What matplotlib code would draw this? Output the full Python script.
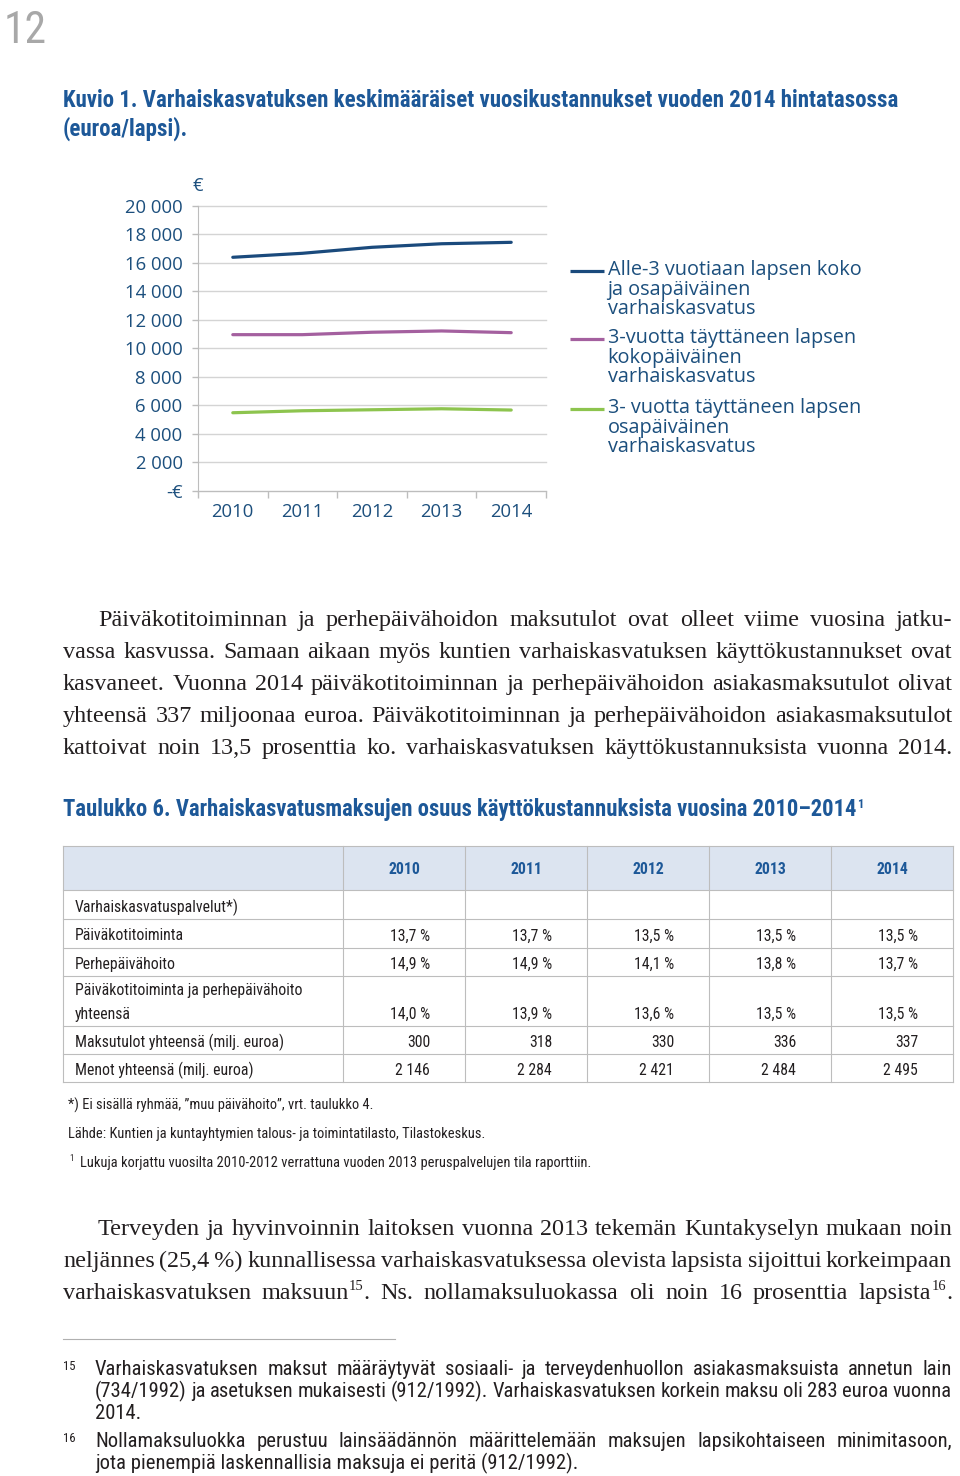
import re
import numpy as np
import matplotlib
matplotlib.use("Agg")
import matplotlib.pyplot as plt
from matplotlib import font_manager as fm

# ---- chart data (Kuvio 1) ----
years = ["2010", "2011", "2012", "2013", "2014"]
alle3 = [16380, 16660, 17080, 17330, 17430]
koko3 = [10950, 10950, 11120, 11210, 11090]
osa3 = [5470, 5610, 5680, 5750, 5660]
ytick_vals = [0, 2000, 4000, 6000, 8000, 10000, 12000, 14000, 16000, 18000, 20000]
ytick_labels = ["-€", "2 000", "4 000", "6 000", "8 000", "10 000",
                "12 000", "14 000", "16 000", "18 000", "20 000"]
legend_labels = [
    "Alle-3 vuotiaan lapsen koko\nja osapäiväinen\nvarhaiskasvatus",
    "3-vuotta täyttäneen lapsen\nkokopäiväinen\nvarhaiskasvatus",
    "3- vuotta täyttäneen lapsen\nosapäiväinen\nvarhaiskasvatus",
]

# ---- table data (Taulukko 6) ----
table_rows = [
    "Varhaiskasvatuspalvelut*)",
    "Päiväkotitoiminta",
    "Perhepäivähoito",
    "Päiväkotitoiminta ja perhepäivähoito\nyhteensä",
    "Maksutulot yhteensä (milj. euroa)",
    "Menot yhteensä (milj. euroa)",
]
table_vals = [
    ["", "", "", "", ""],
    ["13,7 %", "13,7 %", "13,5 %", "13,5 %", "13,5 %"],
    ["14,9 %", "14,9 %", "14,1 %", "13,8 %", "13,7 %"],
    ["14,0 %", "13,9 %", "13,6 %", "13,5 %", "13,5 %"],
    ["300", "318", "330", "336", "337"],
    ["2 146", "2 284", "2 421", "2 484", "2 495"],
]

# ---- page text ----
title1 = ["Kuvio 1. Varhaiskasvatuksen keskimääräiset vuosikustannukset vuoden 2014 hintatasossa",
          "(euroa/lapsi)."]
para1 = [
    "Päiväkotitoiminnan ja perhepäivähoidon maksutulot ovat olleet viime vuosina jatku-",
    "vassa kasvussa. Samaan aikaan myös kuntien varhaiskasvatuksen käyttökustannukset ovat",
    "kasvaneet. Vuonna 2014 päiväkotitoiminnan ja perhepäivähoidon asiakasmaksutulot olivat",
    "yhteensä 337 miljoonaa euroa. Päiväkotitoiminnan ja perhepäivähoidon asiakasmaksutulot",
    "kattoivat noin 13,5 prosenttia ko. varhaiskasvatuksen käyttökustannuksista vuonna 2014.",
]
title2 = "Taulukko 6. Varhaiskasvatusmaksujen osuus käyttökustannuksista vuosina 2010–2014"
table_notes = [
    "*) Ei sisällä ryhmää, ”muu päivähoito”, vrt. taulukko 4.",
    "Lähde: Kuntien ja kuntayhtymien talous- ja toimintatilasto, Tilastokeskus.",
    "Lukuja korjattu vuosilta 2010-2012 verrattuna vuoden 2013 peruspalvelujen tila raporttiin.",
]
para2 = [
    "Terveyden ja hyvinvoinnin laitoksen vuonna 2013 tekemän Kuntakyselyn mukaan noin",
    "neljännes (25,4\u2009%) kunnallisessa varhaiskasvatuksessa olevista lapsista sijoittui korkeimpaan",
    "varhaiskasvatuksen maksuun^{15}.  Ns. nollamaksuluokassa oli noin 16 prosenttia lapsista^{16}.",
]
fn15 = ["Varhaiskasvatuksen maksut määräytyvät sosiaali- ja terveydenhuollon asiakasmaksuista annetun lain",
        "(734/1992) ja asetuksen mukaisesti (912/1992). Varhaiskasvatuksen korkein maksu oli 283 euroa vuonna",
        "2014."]
fn16 = ["Nollamaksuluokka perustuu lainsäädännön määrittelemään maksujen lapsikohtaiseen minimitasoon,",
        "jota pienempiä laskennallisia maksuja ei peritä (912/1992)."]

W, H = 960, 1476
PX = 100 / 72  # pixels per point

avail = {f.name for f in fm.fontManager.ttflist}


def pick(*names):
    for n in names:
        if n in avail:
            return n
    return "DejaVu Sans"


NARROW = pick("Liberation Sans Narrow", "DejaVu Sans Condensed", "Roboto Condensed", "Liberation Sans")
SERIF = pick("Liberation Serif", "DejaVu Serif")
SANS = pick("Open Sans", "Noto Sans", "DejaVu Sans")

NAVY = "#1c4f7d"
TITLE = "#1d5898"
TXT = "#231f20"
LINECOLS = ["#1a4a7c", "#a4609f", "#8dc44e"]
GRID = "#d4d4d4"
RULE = "#bdbdbd"

fig = plt.figure(figsize=(W / 100, H / 100), dpi=100)
page = fig.add_axes([0, 0, 1, 1])
page.set_xlim(0, W)
page.set_ylim(H, 0)
page.axis("off")
R = fig.canvas.get_renderer()


def width(t):
    return t.get_window_extent(renderer=R).width


def fit(t, target):
    t.set_fontsize(t.get_fontsize() * target / width(t))
    return t.get_fontsize()


def token_segments(tok):
    return [p for p in re.split(r"(\^\{[^}]*\})", tok) if p]


def make_token(tok, yb, size, family, color, weight="normal"):
    segs = []
    for part in token_segments(tok):
        if part.startswith("^{"):
            t = page.text(0, yb - size * PX * 0.38, part[2:-1], fontsize=size * 0.6,
                          family=family, color=color, va="baseline", weight=weight)
        else:
            t = page.text(0, yb, part, fontsize=size, family=family, color=color,
                          va="baseline", weight=weight)
        segs.append((t, width(t)))
    return segs


def natural_width(line, size, family, space=0.16):
    toks = [t for t in line.split(" ") if t]
    total = 0
    for tok in toks:
        for t, w in make_token(tok, 0, size, family, TXT):
            total += w
            t.remove()
    return total + (len(toks) - 1) * space * size * PX


def put_line(x0, x1, yb, line, size, family, color, justify=True, weight="normal"):
    groups = [make_token(tok, yb, size, family, color, weight) for tok in line.split(" ") if tok]
    widths = [sum(w for _, w in g) for g in groups]
    if justify and len(groups) > 1:
        gap = (x1 - x0 - sum(widths)) / (len(groups) - 1)
    else:
        gap = 0.25 * size * PX
    x = x0
    for g, w in zip(groups, widths):
        cx = x
        for t, sw in g:
            t.set_x(cx)
            cx += sw
        x += w + gap


# ---- page number and figure title ----
t = page.text(4, 43, "12", fontsize=40, family=NARROW, color="#a8a8a8", va="baseline")
fit(t, 43)
t = page.text(63, 107, title1[0], fontsize=15, family=NARROW, weight="bold", color=TITLE, va="baseline")
tsize = fit(t, 834)
page.text(63, 136, title1[1], fontsize=tsize, family=NARROW, weight="bold", color=TITLE, va="baseline")

# ---- line chart ----
ax = fig.add_axes([198 / W, 1 - 490.7 / H, 348 / W, 285 / H])
ax.patch.set_alpha(0)
xs = np.arange(len(years))
for vals, col in zip([alle3, koko3, osa3], LINECOLS):
    ax.plot(xs, vals, color=col, lw=2.3, solid_capstyle="round")
ax.set_xlim(-0.5, len(years) - 0.5)
ax.set_ylim(0, 20000)
ax.set_yticks(ytick_vals, ytick_labels)
ax.set_xticks(xs, years)
ax.set_xticks(np.arange(len(years) + 1) - 0.5, minor=True)
ax.tick_params(axis="x", which="major", length=0, pad=9, labelsize=13.3, labelcolor=NAVY)
ax.tick_params(axis="x", which="minor", length=5, width=1, color=RULE)
ax.tick_params(axis="y", length=4, width=1, color=RULE, pad=7, labelsize=13.3, labelcolor=NAVY)
for lbl in ax.get_xticklabels() + ax.get_yticklabels():
    lbl.set_fontfamily(SANS)
ax.grid(axis="y", color=GRID, lw=1)
for gl in ax.get_ygridlines():
    gl.set_clip_on(False)
for s in ["top", "right"]:
    ax.spines[s].set_visible(False)
for s in ["left", "bottom"]:
    ax.spines[s].set_color(RULE)
ax.set_axisbelow(True)
page.text(198, 191, "€", fontsize=13.3, family=SANS, color=NAVY, ha="center", va="baseline")

# legend drawn by hand so the key sits beside the first line of each label
leg_top = [271, 339, 409]
lsize = None
for lab, col, yk in zip(legend_labels, LINECOLS, leg_top):
    page.plot([570, 604], [yk, yk], color=col, lw=2.3, solid_capstyle="butt")
    for i, ln in enumerate(lab.split("\n")):
        t = page.text(607.5, yk + 4 + i * 19.5, ln, fontsize=14, family=SANS, color=NAVY, va="baseline")
        if lsize is None:
            lsize = fit(t, 254)
        else:
            t.set_fontsize(lsize)

# ---- body paragraphs ----
BODY_MAX = 17.4
bsize = BODY_MAX
for lines in (para1, para2):
    for i, ln in enumerate(lines):
        x0 = 98 if i == 0 else 63
        bsize = min(bsize, BODY_MAX * (952 - x0) / natural_width(ln, BODY_MAX, SERIF))
for i, ln in enumerate(para1):
    put_line(98 if i == 0 else 63, 952, 626 + 32 * i, ln, bsize, SERIF, TXT)
for i, ln in enumerate(para2):
    put_line(98 if i == 0 else 63, 952, 1235 + 32 * i, ln, bsize, SERIF, TXT)

# ---- table ----
t = page.text(63, 816, title2, fontsize=15, family=NARROW, weight="bold", color=TITLE, va="baseline")
fit(t, 795)
page.text(63 + width(t) + 1, 808, "1", fontsize=t.get_fontsize() * 0.55, family=NARROW,
          weight="bold", color=TITLE, va="baseline")

col_edges = [63, 343, 465, 587, 709, 831, 953]
row_edges = [846, 890, 919, 947.5, 976, 1025.5, 1054, 1082]
page.fill_between([col_edges[0], col_edges[-1]], row_edges[0], row_edges[1], color="#dce4f0", lw=0)
for y in row_edges:
    page.plot([col_edges[0], col_edges[-1]], [y, y], color=RULE, lw=0.8)
for x in col_edges:
    page.plot([x, x], [row_edges[0], row_edges[-1]], color=RULE, lw=0.8)

t = page.text(75, 0, "Maksutulot yhteensä (milj. euroa)", fontsize=12, family=NARROW, color=TXT)
csize = fit(t, 207)
t.remove()
for j, yr in enumerate(years):
    page.text((col_edges[j + 1] + col_edges[j + 2]) / 2, row_edges[1] - 16.5, yr, fontsize=csize,
              family=NARROW, weight="bold", color=TITLE, ha="center", va="baseline")
for i, (lab, vals) in enumerate(zip(table_rows, table_vals)):
    yb = row_edges[i + 2] - 7
    parts = lab.split("\n")
    for k, p in enumerate(parts):
        page.text(75, yb - 23 * (len(parts) - 1 - k), p, fontsize=csize, family=NARROW,
                  color=TXT, va="baseline")
    for j, v in enumerate(vals):
        page.text(col_edges[j + 2] - 35, yb, v, fontsize=csize, family=NARROW, color=TXT,
                  ha="right", va="baseline")

t = page.text(68, 1138, table_notes[1], fontsize=11, family=NARROW, color=TXT, va="baseline")
nsize = fit(t, 415)
page.text(68, 1110, table_notes[0], fontsize=nsize, family=NARROW, color=TXT, va="baseline")
page.text(69, 1161, "1", fontsize=nsize * 0.6, family=NARROW, color=TXT, va="baseline")
page.text(80, 1167, table_notes[2], fontsize=nsize, family=NARROW, color=TXT, va="baseline")

# ---- footnotes ----
page.plot([63, 395], [1339, 1339], color="#b0b0b0", lw=0.8)
t = page.text(95, 1469, fn16[1], fontsize=12, family=NARROW, color=TXT, va="baseline")
fsize = fit(t, 480)
for i, ln in enumerate(fn15):
    put_line(95, 952, 1375 + 22 * i, ln, fsize, NARROW, TXT, justify=(i < len(fn15) - 1))
put_line(95, 952, 1447, fn16[0], fsize, NARROW, TXT)
page.text(63, 1370, "15", fontsize=fsize * 0.62, family=NARROW, color=TXT, va="baseline")
page.text(63, 1442, "16", fontsize=fsize * 0.62, family=NARROW, color=TXT, va="baseline")

fig.savefig("out.png", dpi=100)
